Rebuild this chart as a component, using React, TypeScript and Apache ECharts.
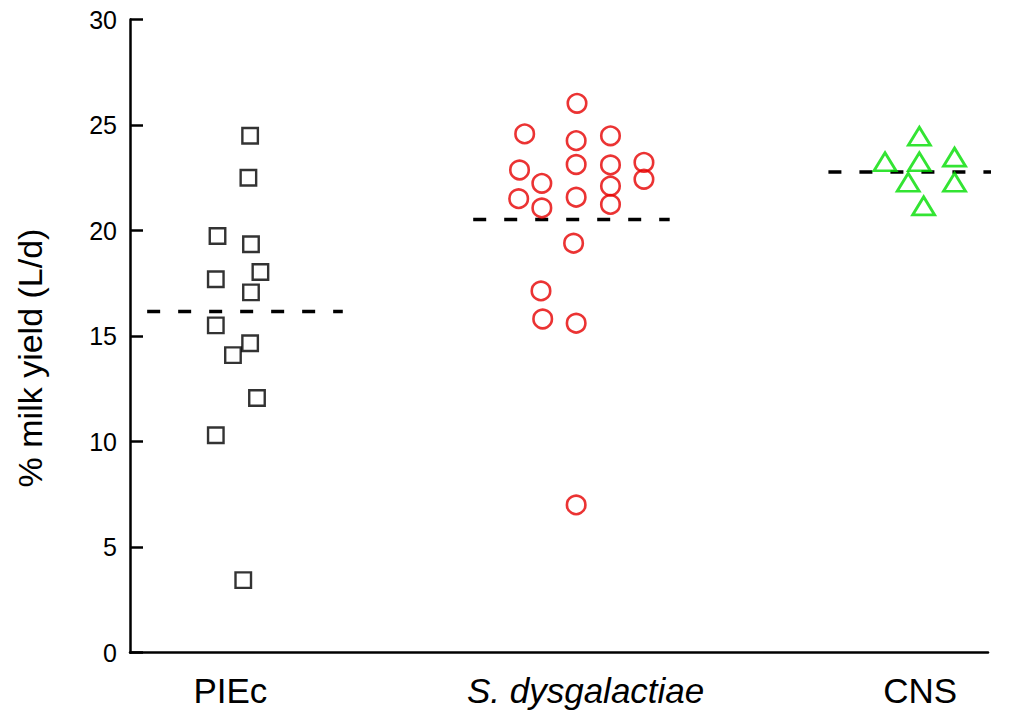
import React, { useEffect, useRef } from "react";
import * as echarts from "echarts";

// Category labels and their positions along the x axis (0..100 scale)
const categoryNames = ["PIEc", "S. dysgalactiae", "CNS"];
const categoryPos = [11.7, 53.1, 92.1];

// Y tick settings
const yMin = 0;
const yMax = 30;
const yInterval = 5;

// PIEc (squares): jittered x positions and % milk yield
const piecX = [14.0, 13.8, 10.2, 14.1, 15.2, 10.0, 14.1, 10.0, 14.0, 12.0, 14.8, 10.0, 13.2];
const piecY = [24.49, 22.5, 19.74, 19.35, 18.04, 17.69, 17.07, 15.51, 14.66, 14.1, 12.07, 10.3, 3.44];

// S. dysgalactiae (circles)
const sdysX = [52.1, 46.0, 52.0, 56.0, 45.4, 52.0, 56.0, 59.9, 48.0, 56.0, 59.9, 45.3, 48.0, 52.0, 56.0, 51.7, 47.9, 48.1, 52.0, 52.0];
const sdysY = [26.03, 24.58, 24.26, 24.49, 22.87, 23.13, 23.11, 23.23, 22.24, 22.11, 22.43, 21.51, 21.07, 21.58, 21.24, 19.4, 17.14, 15.81, 15.61, 7.0];

// CNS (triangles)
const cnsX = [92.0, 88.0, 92.0, 96.1, 90.7, 96.1, 92.5];
const cnsY = [24.47, 23.26, 23.26, 23.48, 22.29, 22.29, 21.17];

// Group means (dashed lines) and their x extents
const meanValues = [16.17, 20.53, 22.77];
const meanXStart = [2.0, 40.0, 81.4];
const meanXEnd = [24.8, 62.9, 104.4];

const FONT = "'Liberation Sans', Arial, Helvetica, sans-serif";

export default function App() {
  const ref = useRef<HTMLDivElement>(null);

  useEffect(() => {
    if (!ref.current) return;
    const chart = echarts.init(ref.current, undefined, { renderer: "svg" });

    const zip = (xs: number[], ys: number[]) => xs.map((x, i) => [x, ys[i]]);

    const meanSeries = meanValues.map((m, i) => ({
      type: "line",
      data: [
        [meanXStart[i], m],
        [meanXEnd[i], m],
      ],
      symbol: "none",
      clip: false,
      silent: true,
      z: 1,
      lineStyle: { color: "#000", width: 3.5, type: [13, 18] },
    }));

    chart.setOption({
      animation: false,
      backgroundColor: "#fff",
      grid: { left: 130, right: 43, top: 19.5, bottom: 62.3, containLabel: false },
      xAxis: {
        type: "value",
        min: 0,
        max: 100,
        axisLine: { show: true, lineStyle: { color: "#000", width: 2.5 } },
        axisTick: { show: false },
        splitLine: { show: false },
        axisLabel: {
          customValues: categoryPos,
          margin: 20,
          formatter: (v: number) => {
            const idx = categoryPos.findIndex((p) => Math.abs(p - v) < 1e-6);
            if (idx < 0) return "";
            return idx === 1 ? "{i|" + categoryNames[idx] + "}" : "{n|" + categoryNames[idx] + "}";
          },
          rich: {
            n: { fontFamily: FONT, fontSize: 35, color: "#000" },
            i: { fontFamily: FONT, fontSize: 35, color: "#000", fontStyle: "italic" },
          },
        },
      },
      yAxis: {
        type: "value",
        min: yMin,
        max: yMax,
        interval: yInterval,
        axisLine: { show: true, lineStyle: { color: "#000", width: 2.5 } },
        axisTick: { show: true, inside: true, length: 13, lineStyle: { color: "#000", width: 2.5 } },
        splitLine: { show: false },
        axisLabel: { fontFamily: FONT, fontSize: 25, color: "#000", margin: 13 },
      },
      graphic: [
        {
          type: "text",
          x: 30,
          y: 358,
          rotation: Math.PI / 2,
          style: {
            text: "% milk yield (L/d)",
            fontFamily: FONT,
            fontSize: 34,
            fill: "#000",
            textAlign: "center",
            textVerticalAlign: "middle",
          },
        },
      ],
      series: [
        ...meanSeries,
        {
          type: "scatter",
          data: zip(piecX, piecY),
          symbol: "rect",
          symbolSize: 15.5,
          z: 3,
          itemStyle: { color: "rgba(0,0,0,0)", borderColor: "#000", borderWidth: 2.4 },
        },
        {
          type: "scatter",
          data: zip(sdysX, sdysY),
          symbol: "circle",
          symbolSize: 18.5,
          z: 3,
          itemStyle: { color: "rgba(0,0,0,0)", borderColor: "#e60000", borderWidth: 2.6 },
        },
        {
          type: "scatter",
          data: zip(cnsX, cnsY),
          symbol: "triangle",
          symbolSize: [22, 18],
          z: 3,
          itemStyle: { color: "rgba(0,0,0,0)", borderColor: "#00dd00", borderWidth: 2.8 },
        },
      ],
    });

    return () => chart.dispose();
  }, []);

  return <div ref={ref} style={{ width: 1031, height: 715, position: "absolute", left: 0, top: 0 }} />;
}
